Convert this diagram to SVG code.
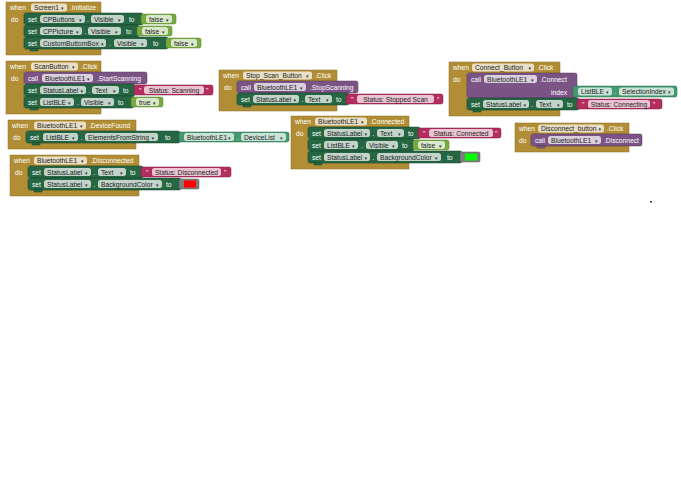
<svg xmlns="http://www.w3.org/2000/svg" width="681" height="500" viewBox="0 0 681 500">
<style>
text{font-family:"Liberation Sans",Arial,sans-serif;font-size:6.7px}
.ev{fill:#b18e35;stroke:#8a6d22;stroke-width:.5}
.st{fill:#266643;stroke:#17402a;stroke-width:.5}
.gt{fill:#439970;stroke:#2c6b4c;stroke-width:.5}
.mc{fill:#7c5385;stroke:#553a5c;stroke-width:.5}
.tx{fill:#b32d5e;stroke:#7d1f42;stroke-width:.5}
.lg{fill:#77ab41;stroke:#55802b;stroke-width:.5}
.cl{fill:#7d7d7d;stroke:#555;stroke-width:.5}
.p{fill:#fff;fill-opacity:.72}
.w{fill:#fff}
.k{fill:#1a1a1a}
.a{font-family:"DejaVu Sans",sans-serif;font-size:5px;fill:#333}
.m{text-anchor:middle}
</style>
<rect width="681" height="500" fill="#fff"/>
<g id="connectors"/>

<g id="screen1-initialize">
<path class="ev" d="M6,2 H101 V13 H24 V49 H101 V55 H6 Z"/>
<text x="10" y="10" class="w">when</text>
<rect class="p" x="31" y="3.5" width="36" height="8" rx="2.5"/><text x="34" y="10" class="k">Screen1</text><text x="61" y="10" class="a">▾</text>
<text x="70" y="10" class="w">.Initialize</text>
<text x="11" y="21.5" class="w">do</text>
<rect class="st" x="24" y="13" width="119" height="12" rx="2"/>
<text x="28" y="21.5" class="w">set</text>
<rect class="p" x="40" y="15" width="45" height="8" rx="2.5"/><text x="43" y="21.5" class="k">CPButtons</text><text x="79" y="21.5" class="a">▾</text>
<text x="87" y="21.5" class="w">.</text>
<rect class="p" x="91" y="15" width="33" height="8" rx="2.5"/><text x="94" y="21.5" class="k">Visible</text><text x="118" y="21.5" class="a">▾</text>
<text x="129" y="21.5" class="w">to</text>
<rect class="lg" x="141" y="14" width="35" height="10" rx="2"/>
<rect class="p" x="146" y="15" width="26" height="8" rx="2.5"/><text x="149" y="21.5" class="k">false</text><text x="166" y="21.5" class="a">▾</text>
<rect class="st" x="24" y="25" width="115" height="12" rx="2"/>
<text x="28" y="33.5" class="w">set</text>
<rect class="p" x="40" y="27" width="42" height="8" rx="2.5"/><text x="43" y="33.5" class="k">CPPicture</text><text x="76" y="33.5" class="a">▾</text>
<text x="84.5" y="33.5" class="w">.</text>
<rect class="p" x="88" y="27" width="33" height="8" rx="2.5"/><text x="91" y="33.5" class="k">Visible</text><text x="115" y="33.5" class="a">▾</text>
<text x="126" y="33.5" class="w">to</text>
<rect class="lg" x="137" y="26" width="35" height="10" rx="2"/>
<rect class="p" x="142" y="27" width="26" height="8" rx="2.5"/><text x="145" y="33.5" class="k">false</text><text x="162" y="33.5" class="a">▾</text>
<rect class="st" x="24" y="37" width="144" height="12" rx="2"/>
<text x="28" y="45.5" class="w">set</text>
<rect class="p" x="40" y="39" width="66" height="8" rx="2.5"/><text x="43" y="45.5" class="k">CustomButtomBox</text><text x="101" y="45.5" class="a">▾</text>
<text x="109" y="45.5" class="w">.</text>
<rect class="p" x="114" y="39" width="33" height="8" rx="2.5"/><text x="117" y="45.5" class="k">Visible</text><text x="141" y="45.5" class="a">▾</text>
<text x="153" y="45.5" class="w">to</text>
<rect class="lg" x="166" y="38" width="35" height="10" rx="2"/>
<rect class="p" x="171" y="39" width="26" height="8" rx="2.5"/><text x="174" y="45.5" class="k">false</text><text x="191" y="45.5" class="a">▾</text>
<rect class="st" x="30" y="48.5" width="8" height="2.5"/>
</g>

<g id="scanbutton-click">
<path class="ev" d="M6,61 H101 V72 H24 V108 H101 V114 H6 Z"/>
<text x="10" y="69" class="w">when</text>
<rect class="p" x="31" y="62.5" width="47" height="8" rx="2.5"/><text x="34" y="69" class="k">ScanButton</text><text x="72" y="69" class="a">▾</text>
<text x="81" y="69" class="w">.Click</text>
<text x="11" y="80.5" class="w">do</text>
<rect class="mc" x="24" y="72" width="123" height="12" rx="2"/>
<text x="28" y="80.5" class="w">call</text>
<rect class="p" x="42" y="74" width="51" height="8" rx="2.5"/><text x="45" y="80.5" class="k">BluetoothLE1</text><text x="87" y="80.5" class="a">▾</text>
<text x="97" y="80.5" class="w">.StartScanning</text>
<rect class="st" x="24" y="84" width="111" height="12" rx="2"/>
<text x="28" y="92.5" class="w">set</text>
<rect class="p" x="40" y="86" width="46" height="8" rx="2.5"/><text x="43" y="92.5" class="k">StatusLabel</text><text x="80.5" y="92.5" class="a">▾</text>
<text x="88.5" y="92.5" class="w">.</text>
<rect class="p" x="92" y="86" width="27" height="8" rx="2.5"/><text x="95" y="92.5" class="k">Text</text><text x="113" y="92.5" class="a">▾</text>
<text x="123" y="92.5" class="w">to</text>
<rect class="tx" x="134" y="85" width="79" height="10" rx="2"/>
<text x="139" y="92.5" class="w">"</text>
<rect class="p" x="144" y="86" width="60" height="8" rx="2.5"/><text x="174" y="92.5" class="k m">Status: Scanning</text>
<text x="206" y="92.5" class="w">"</text>
<rect class="st" x="24" y="96" width="110" height="12" rx="2"/>
<text x="28" y="104.5" class="w">set</text>
<rect class="p" x="40" y="98" width="34" height="8" rx="2.5"/><text x="43" y="104.5" class="k">ListBLE</text><text x="68" y="104.5" class="a">▾</text>
<text x="77" y="104.5" class="w">.</text>
<rect class="p" x="81" y="98" width="33" height="8" rx="2.5"/><text x="84" y="104.5" class="k">Visible</text><text x="108" y="104.5" class="a">▾</text>
<text x="118" y="104.5" class="w">to</text>
<rect class="lg" x="131" y="97" width="32" height="10" rx="2"/>
<rect class="p" x="136" y="98" width="23" height="8" rx="2.5"/><text x="139" y="104.5" class="k">true</text><text x="153" y="104.5" class="a">▾</text>
<rect class="st" x="30" y="107.5" width="8" height="2.5"/>
</g>

<g id="stop-scan-button-click">
<path class="ev" d="M219,70 H337 V81 H237 V105 H337 V111 H219 Z"/>
<text x="223" y="78" class="w">when</text>
<rect class="p" x="243" y="71.5" width="69" height="8" rx="2.5"/><text x="246" y="78" class="k">Stop_Scan_Button</text><text x="306" y="78" class="a">▾</text>
<text x="315" y="78" class="w">.Click</text>
<text x="224" y="89.5" class="w">do</text>
<rect class="mc" x="237" y="81" width="121" height="12" rx="2"/>
<text x="241" y="89.5" class="w">call</text>
<rect class="p" x="254" y="83" width="52" height="8" rx="2.5"/><text x="257" y="89.5" class="k">BluetoothLE1</text><text x="300" y="89.5" class="a">▾</text>
<text x="310" y="89.5" class="w">.StopScanning</text>
<rect class="st" x="237" y="93" width="112" height="12" rx="2"/>
<text x="241" y="101.5" class="w">set</text>
<rect class="p" x="253" y="95" width="46" height="8" rx="2.5"/><text x="256" y="101.5" class="k">StatusLabel</text><text x="293.5" y="101.5" class="a">▾</text>
<text x="301.5" y="101.5" class="w">.</text>
<rect class="p" x="305" y="95" width="27" height="8" rx="2.5"/><text x="308" y="101.5" class="k">Text</text><text x="326" y="101.5" class="a">▾</text>
<text x="336" y="101.5" class="w">to</text>
<rect class="tx" x="346" y="94" width="97" height="10" rx="2"/>
<text x="351" y="101.5" class="w">"</text>
<rect class="p" x="357" y="95" width="77" height="8" rx="2.5"/><text x="395.5" y="101.5" class="k m">Status: Stopped Scan</text>
<text x="437" y="101.5" class="w">"</text>
<rect class="st" x="243" y="104.5" width="8" height="2.5"/>
</g>

<g id="connect-button-click">
<path class="ev" d="M449,62 H560 V73 H467 V110 H560 V116 H449 Z"/>
<text x="453" y="70" class="w">when</text>
<rect class="p" x="472" y="63.5" width="62" height="8" rx="2.5"/><text x="475" y="70" class="k">Connect_Button</text><text x="528.5" y="70" class="a">▾</text>
<text x="537" y="70" class="w">.Click</text>
<text x="453" y="81.5" class="w">do</text>
<rect class="mc" x="467" y="73" width="110" height="25" rx="2"/>
<text x="471" y="81.5" class="w">call</text>
<rect class="p" x="484" y="75" width="53" height="8" rx="2.5"/><text x="487" y="81.5" class="k">BluetoothLE1</text><text x="531" y="81.5" class="a">▾</text>
<text x="540" y="81.5" class="w">.Connect</text>
<text x="567" y="94.5" class="w" text-anchor="end">index</text>
<rect class="gt" x="573" y="86" width="104" height="11" rx="2"/>
<rect class="p" x="578" y="87.5" width="34" height="8" rx="2.5"/><text x="581" y="94" class="k">ListBLE</text><text x="606" y="94" class="a">▾</text>
<text x="614.5" y="94" class="w">.</text>
<rect class="p" x="619" y="87.5" width="55" height="8" rx="2.5"/><text x="622" y="94" class="k">SelectionIndex</text><text x="668" y="94" class="a">▾</text>
<rect class="st" x="467" y="98" width="112" height="12" rx="2"/>
<text x="471" y="106.5" class="w">set</text>
<rect class="p" x="483" y="100" width="46" height="8" rx="2.5"/><text x="486" y="106.5" class="k">StatusLabel</text><text x="523.5" y="106.5" class="a">▾</text>
<text x="531.5" y="106.5" class="w">.</text>
<rect class="p" x="536" y="100" width="27" height="8" rx="2.5"/><text x="539" y="106.5" class="k">Text</text><text x="557" y="106.5" class="a">▾</text>
<text x="567" y="106.5" class="w">to</text>
<rect class="tx" x="577" y="99" width="85" height="10" rx="2"/>
<text x="582" y="106.5" class="w">"</text>
<rect class="p" x="588" y="100" width="62" height="8" rx="2.5"/><text x="619" y="106.5" class="k m">Status: Connecting</text>
<text x="653" y="106.5" class="w">"</text>
<rect class="st" x="473" y="109.5" width="8" height="2.5"/>
</g>

<g id="bluetoothle1-devicefound">
<path class="ev" d="M8,120 H136 V131 H26 V143 H136 V149 H8 Z"/>
<text x="12" y="128" class="w">when</text>
<rect class="p" x="34" y="121.5" width="52" height="8" rx="2.5"/><text x="37" y="128" class="k">BluetoothLE1</text><text x="80" y="128" class="a">▾</text>
<text x="89" y="128" class="w">.DeviceFound</text>
<text x="13" y="139.5" class="w">do</text>
<rect class="st" x="26" y="131" width="154" height="12" rx="2"/>
<text x="30" y="139.5" class="w">set</text>
<rect class="p" x="43" y="133" width="35" height="8" rx="2.5"/><text x="46" y="139.5" class="k">ListBLE</text><text x="72" y="139.5" class="a">▾</text>
<text x="80.5" y="139.5" class="w">.</text>
<rect class="p" x="85" y="133" width="73" height="8" rx="2.5"/><text x="88" y="139.5" class="k">ElementsFromString</text><text x="151.5" y="139.5" class="a">▾</text>
<text x="165" y="139.5" class="w">to</text>
<rect class="gt" x="179" y="132" width="110" height="10" rx="2"/>
<rect class="p" x="184" y="133" width="50" height="8" rx="2.5"/><text x="187" y="139.5" class="k">BluetoothLE1</text><text x="228" y="139.5" class="a">▾</text>
<text x="237" y="139.5" class="w">.</text>
<rect class="p" x="241" y="133" width="45" height="8" rx="2.5"/><text x="244" y="139.5" class="k">DeviceList</text><text x="280" y="139.5" class="a">▾</text>
<rect class="st" x="32" y="142.5" width="8" height="2.5"/>
</g>

<g id="bluetoothle1-disconnected">
<path class="ev" d="M10,155 H139 V166 H28 V190 H139 V196 H10 Z"/>
<text x="14" y="163" class="w">when</text>
<rect class="p" x="34" y="156.5" width="53" height="8" rx="2.5"/><text x="37" y="163" class="k">BluetoothLE1</text><text x="81" y="163" class="a">▾</text>
<text x="91" y="163" class="w">.Disconnected</text>
<text x="15" y="174.5" class="w">do</text>
<rect class="st" x="28" y="166" width="115" height="12" rx="2"/>
<text x="32" y="174.5" class="w">set</text>
<rect class="p" x="44" y="168" width="47" height="8" rx="2.5"/><text x="47" y="174.5" class="k">StatusLabel</text><text x="85" y="174.5" class="a">▾</text>
<text x="93.5" y="174.5" class="w">.</text>
<rect class="p" x="98" y="168" width="28" height="8" rx="2.5"/><text x="101" y="174.5" class="k">Text</text><text x="120" y="174.5" class="a">▾</text>
<text x="130" y="174.5" class="w">to</text>
<rect class="tx" x="141" y="167" width="90" height="10" rx="2"/>
<text x="146" y="174.5" class="w">"</text>
<rect class="p" x="152" y="168" width="69" height="8" rx="2.5"/><text x="186.5" y="174.5" class="k m">Status: Disconnected</text>
<text x="224" y="174.5" class="w">"</text>
<rect class="st" x="28" y="178" width="153" height="12" rx="2"/>
<text x="32" y="186.5" class="w">set</text>
<rect class="p" x="44" y="180" width="47" height="8" rx="2.5"/><text x="47" y="186.5" class="k">StatusLabel</text><text x="85" y="186.5" class="a">▾</text>
<text x="93.5" y="186.5" class="w">.</text>
<rect class="p" x="98" y="180" width="64" height="8" rx="2.5"/><text x="101" y="186.5" class="k">BackgroundColor</text><text x="156" y="186.5" class="a">▾</text>
<text x="166" y="186.5" class="w">to</text>
<rect class="cl" x="179" y="179" width="20" height="10" rx="1.5"/>
<rect x="184" y="180.5" width="12" height="7" fill="#ff0000"/>
<rect class="st" x="34" y="189.5" width="8" height="2.5"/>
</g>

<g id="bluetoothle1-connected">
<path class="ev" d="M291,116 H409 V127 H308 V163 H409 V169 H291 Z"/>
<text x="295" y="124" class="w">when</text>
<rect class="p" x="315" y="117.5" width="52" height="8" rx="2.5"/><text x="318" y="124" class="k">BluetoothLE1</text><text x="361" y="124" class="a">▾</text>
<text x="370" y="124" class="w">.Connected</text>
<text x="296" y="135.5" class="w">do</text>
<rect class="st" x="308" y="127" width="112" height="12" rx="2"/>
<text x="312" y="135.5" class="w">set</text>
<rect class="p" x="324" y="129" width="46" height="8" rx="2.5"/><text x="327" y="135.5" class="k">StatusLabel</text><text x="364.5" y="135.5" class="a">▾</text>
<text x="372.5" y="135.5" class="w">.</text>
<rect class="p" x="377" y="129" width="27" height="8" rx="2.5"/><text x="380" y="135.5" class="k">Text</text><text x="398" y="135.5" class="a">▾</text>
<text x="408" y="135.5" class="w">to</text>
<rect class="tx" x="418" y="128" width="83" height="10" rx="2"/>
<text x="423" y="135.5" class="w">"</text>
<rect class="p" x="429" y="129" width="64" height="8" rx="2.5"/><text x="461" y="135.5" class="k m">Status: Connected</text>
<text x="495" y="135.5" class="w">"</text>
<rect class="st" x="308" y="139" width="106" height="12" rx="2"/>
<text x="312" y="147.5" class="w">set</text>
<rect class="p" x="324" y="141" width="34" height="8" rx="2.5"/><text x="327" y="147.5" class="k">ListBLE</text><text x="352" y="147.5" class="a">▾</text>
<text x="361" y="147.5" class="w">.</text>
<rect class="p" x="366" y="141" width="32" height="8" rx="2.5"/><text x="369" y="147.5" class="k">Visible</text><text x="392" y="147.5" class="a">▾</text>
<text x="402" y="147.5" class="w">to</text>
<rect class="lg" x="413" y="140" width="36" height="10" rx="2"/>
<rect class="p" x="418" y="141" width="27" height="8" rx="2.5"/><text x="421" y="147.5" class="k">false</text><text x="439" y="147.5" class="a">▾</text>
<rect class="st" x="308" y="151" width="154" height="12" rx="2"/>
<text x="312" y="159.5" class="w">set</text>
<rect class="p" x="324" y="153" width="46" height="8" rx="2.5"/><text x="327" y="159.5" class="k">StatusLabel</text><text x="364.5" y="159.5" class="a">▾</text>
<text x="372.5" y="159.5" class="w">.</text>
<rect class="p" x="377" y="153" width="64" height="8" rx="2.5"/><text x="380" y="159.5" class="k">BackgroundColor</text><text x="435" y="159.5" class="a">▾</text>
<text x="447" y="159.5" class="w">to</text>
<rect class="cl" x="460" y="152" width="20" height="10" rx="1.5"/>
<rect x="465" y="153.5" width="12" height="7" fill="#00ff00"/>
<rect class="st" x="314" y="162.5" width="8" height="2.5"/>
</g>

<g id="disconnect-button-click">
<path class="ev" d="M515,123 H629 V134 H531 V146 H629 V152 H515 Z"/>
<text x="519" y="131" class="w">when</text>
<rect class="p" x="538" y="124.5" width="66" height="8" rx="2.5"/><text x="541" y="131" class="k">Disconnect_button</text><text x="598.5" y="131" class="a">▾</text>
<text x="607" y="131" class="w">.Click</text>
<text x="519" y="142.5" class="w">do</text>
<rect class="mc" x="531" y="134" width="111" height="12" rx="2"/>
<text x="535" y="142.5" class="w">call</text>
<rect class="p" x="548" y="136" width="53" height="8" rx="2.5"/><text x="551" y="142.5" class="k">BluetoothLE1</text><text x="595" y="142.5" class="a">▾</text>
<text x="604" y="142.5" class="w">.Disconnect</text>
<rect class="mc" x="537" y="145.5" width="8" height="2.5"/>
</g>

<rect x="650" y="201" width="2" height="1.5" fill="#333"/>
</svg>
